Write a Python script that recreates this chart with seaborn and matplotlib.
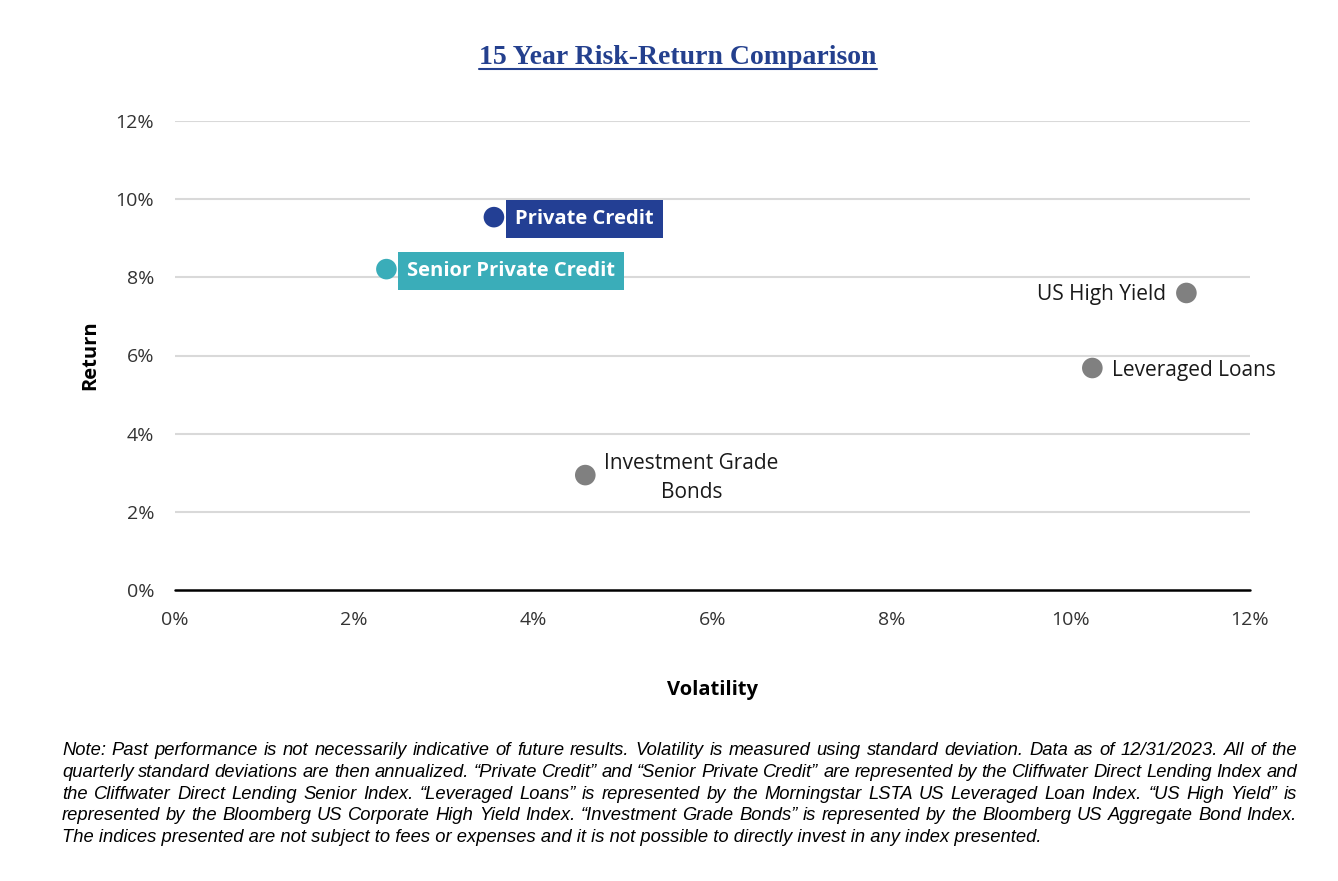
import matplotlib
matplotlib.use("Agg")
import matplotlib.pyplot as plt
import seaborn as sns
import pandas as pd
from matplotlib.lines import Line2D

# ---- data ----
assets = ["Private Credit", "Senior Private Credit", "US High Yield", "Leveraged Loans", "Investment Grade\nBonds"]
volatility = [3.56, 2.36, 11.29, 10.24, 4.58]
returns = [9.54, 8.21, 7.60, 5.68, 2.94]
x_ticks = [0, 2, 4, 6, 8, 10, 12]
y_ticks = [0, 2, 4, 6, 8, 10, 12]

title = "15 Year Risk-Return Comparison"
note_lines = [
    "Note: Past performance is not necessarily indicative of future results. Volatility is measured using standard deviation. Data as of 12/31/2023. All of the",
    "quarterly standard deviations are then annualized. \u201cPrivate Credit\u201d and \u201cSenior Private Credit\u201d are represented by the Cliffwater Direct Lending Index and",
    "the Cliffwater Direct Lending Senior Index. \u201cLeveraged Loans\u201d is represented by the Morningstar LSTA US Leveraged Loan Index. \u201cUS High Yield\u201d is",
    "represented by the Bloomberg US Corporate High Yield Index. \u201cInvestment Grade Bonds\u201d is represented by the Bloomberg US Aggregate Bond Index.",
    "The indices presented are not subject to fees or expenses and it is not possible to directly invest in any index presented.",
]

colors = {"Private Credit": "#233f94", "Senior Private Credit": "#3aadb9",
          "US High Yield": "#808080", "Leveraged Loans": "#808080",
          "Investment Grade\nBonds": "#808080"}

df = pd.DataFrame({"asset": assets, "vol": volatility, "ret": returns})

sns.set_theme(style="white")
plt.rcParams["font.family"] = ["Open Sans", "DejaVu Sans"]

fig = plt.figure(figsize=(13.38, 8.81), dpi=100)
ax = fig.add_axes([175/1338, 1-590/881, (1250-175)/1338, (590-121)/881])

ax.set_xlim(0, 12)
ax.set_ylim(0, 12)
ax.set_yticks(y_ticks)
ax.set_xticks(x_ticks)
ax.set_yticklabels([f"{v}%" for v in y_ticks])
ax.set_xticklabels([f"{v}%" for v in x_ticks])
for yv in y_ticks[1:]:
    ax.axhline(yv, color="#d9d9d9", lw=1.5, zorder=0)
ax.axhline(0, color="black", lw=1.8, zorder=1, clip_on=False)
for s in ax.spines.values():
    s.set_visible(False)
ax.tick_params(axis="both", length=0, labelsize=14, colors="#333333", pad=15)

sns.scatterplot(data=df, x="vol", y="ret", hue="asset", palette=colors, s=220,
                linewidth=0, legend=False, ax=ax, zorder=3)

ax.set_xlabel("Volatility", fontsize=14.5, fontweight="bold", labelpad=37, color="black")
ax.set_ylabel("Return", fontsize=14.5, fontweight="bold", labelpad=11, color="black")

# labels
lab_kw = dict(textcoords="offset pixels", va="center")
ax.annotate(assets[0], (volatility[0], returns[0]), xytext=(21, -2), ha="left",
            color="white", fontweight="bold", fontsize=14.5,
            bbox=dict(boxstyle="square,pad=0.45", fc=colors[assets[0]], ec="none"), **lab_kw)
ax.annotate(assets[1], (volatility[1], returns[1]), xytext=(21, -2), ha="left",
            color="white", fontweight="bold", fontsize=14.5,
            bbox=dict(boxstyle="square,pad=0.45", fc=colors[assets[1]], ec="none"), **lab_kw)
ax.annotate(assets[2], (volatility[2], returns[2]), xytext=(-20, -2), ha="right",
            color="#1a1a1a", fontsize=15, **lab_kw)
ax.annotate(assets[3], (volatility[3], returns[3]), xytext=(20, -2), ha="left",
            color="#1a1a1a", fontsize=15, **lab_kw)
ax.annotate(assets[4], (volatility[4], returns[4]), xytext=(19, -3), ha="left",
            multialignment="center", color="#1a1a1a", fontsize=15, linespacing=1.5, **lab_kw)

# title with underline
t = fig.text(678/1338, 1-58/881, title, ha="center", va="center", fontsize=20,
             fontweight="bold", color="#24408e", family=["Liberation Serif", "DejaVu Serif"])
fig.canvas.draw()
renderer = fig.canvas.get_renderer()
bb = t.get_window_extent(renderer)
uy = bb.y0 + 2
fig.add_artist(Line2D([bb.x0/1338, bb.x1/1338], [uy/881, uy/881], color="#24408e", lw=1.5,
                      transform=fig.transFigure))

# justified note
left_px, right_px = 62, 1297
line_y = [755, 777, 799, 820, 842]
fkw = dict(fontsize=13.2, fontstyle="italic", color="black", family=["Liberation Sans", "DejaVu Sans"],
           va="baseline", ha="left")
for i, line in enumerate(note_lines):
    yy = 1 - line_y[i]/881
    if i == len(note_lines) - 1:
        fig.text(left_px/1338, yy, line, **fkw)
        continue
    words = line.split(" ")
    widths = []
    arts = []
    for w in words:
        a = fig.text(0, yy, w, **fkw)
        widths.append(a.get_window_extent(renderer).width)
        arts.append(a)
    gap = (right_px - left_px - sum(widths)) / (len(words) - 1)
    x = left_px
    for a, w in zip(arts, widths):
        a.set_x(x/1338)
        x += w + gap

fig.savefig("out.png", dpi=100)
